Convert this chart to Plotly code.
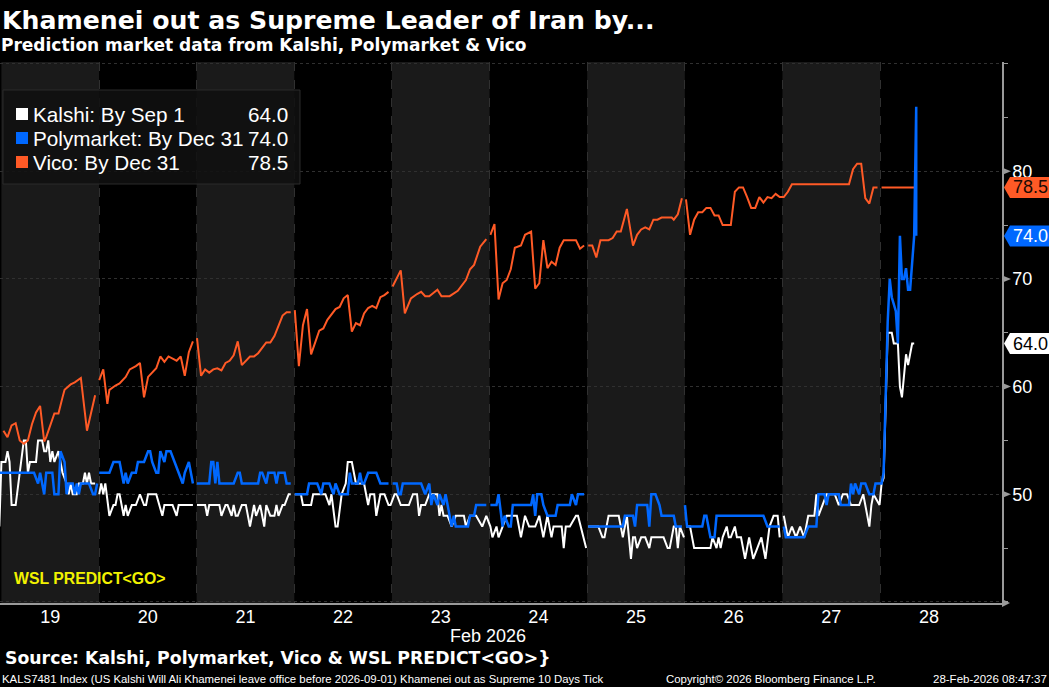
import pandas as pd
import plotly.graph_objects as go

W, H = 1049, 687
L, R, T, B = 0, 1002, 62, 603

START = pd.Timestamp("2026-02-19 00:00")
STEP_MIN = 30  # readings are half-hourly; the first number of each pair counts half hours from START
READ_SCALE = 1.0017  # the pixel scale the readings were taken with

day_labels = ["19", "20", "21", "22", "23", "24", "25", "26", "27", "28"]
y_major = [40, 50, 60, 70, 80, 90]
y_labels = ["", "50", "60", "70", "80", ""]
y_minor = [45, 55, 65, 75, 85]

kalshi = [(-1,47),(0,53),(2,53),(3,54),(4,53),(5,49),(7,49),(11,55),(12,55),(13,52),(14,53),(17,53),(18,55),(20,55),(21,54),(22,54),(23,55),(24,53),(25,54),(26,53),(28,54),(30,52),(32,51),(33,50),(34,51),(35,50),(37,50),(38,51),(40,51),(41,52),(42,51),(43,52),(44,51),(46,51),
 (47,None),(48,50),(49,51),(50,50),(51,51),(53,48),(55,49),(56,49),(57,50),(58,50),(60,48),(61,49),(62,48),(64,49),(66,49),(68,50),(70,49),(71,49),(72,50),(76,50),(79,48),(80,49),(84,49),(86,48),(87,49),(94,49),
 (95,None),(96,49),(100,49),(101,48),(102,49),(107,49),(108,48),(110,49),(111,49),(113,48),(114,49),(115,48),(116,48),(118,49),(120,49),(122,47),(124,49),(125,48),(127,49),(128,48),(129,47),(130,49),(132,48),(134,48),(135,49),(136,48),(138,49),(139,49),(141,50),(142,50),
 (143,None),(144,50),(147,50),(148,49),(152,49),(153,50),(159,50),(161,49),(162,50),(164,47),(165,47),(167,50),(169,51),(170,53),(172,53),(174,51),(178,51),(180,49),(181,50),(183,50),(184,48),(186,50),(188,50),(190,49),
 (191,49),(193,50),(194,50),(196,49),(200,49),(202,50),(204,50),(205,48),(206,49),(208,49),(210,50),(214,50),(215,48),(216,49),(217,48),(219,48),(221,47),(223,48),(227,48),(228,47),(230,48),(233,48),(236,47),(238,48),
 (240,47),(241,46),(243,47),(244,46),(246,47),(248,48),(253,48),(255,46),(257,48),(259,47),(262,47),(264,48),(266,46),(268,48),(270,46),(271,47),(275,47),(276,45),(277,47),(279,47),(282,48),(283,48),(287,45),
 (287.5,None),(288,47),(293,47),(295,46),(296,46),(298,48),(303,48),(305,46),(307,48),(309,44),(310,46),(311,46),(312,45),(314,46),(316,46),(318,45),(319,46),(325,46),(327,45),(328,45),(330,47),(331,47),(332,45),(333,47),(335,46),
 (335.5,None),(336,47),(338,47),(340,45),(348,45),(349,46),(351,45),(352,46),(353,45),(354,46),(356,47),(357,46),(358,46),(360,47),(361,46),(363,46),(365,44),(367,46),(369,44),(371,45),(373,46),(375,44),(377,47),(379,48),(381,48),(382,46),
 (383,None),(384,48),(386,46),(388,47),(390,46),(392,47),(394,46),(396,48),(399,48),(400,50),(401,48),(403,49),(405,50),(409,50),(411,49),(413,50),(415,50),(417,49),(421,49),(423,50),(426,47),(427,49),(428,50),(431,49),(432,51),(433,51.5),(434,59),(435,65),(437,65),(438,64),(440,64),(441,60),(442,59),(444,63),(445,62),(447,64),(448,64)]

polymarket = [(-1,52),(16,52),(18,51),(19,52),(21,50),(22,52),(25,52),(26,50),(28,50),(29,54),(31,53),(32,50),(33,51),(35,51),(36,50),(37,51),(38,50),(39,51),(43,51),(45,50),(46,50),(47,51),
 (47.5,None),(48,52),(53,52),(55,53),(58,53),(60,51),(61,52),(62,51),(64,52),(66,52),(67,53),(70,53),(72,54),(73,54),(74,53),(76,52),(77,52),(78,54),(80,53),(81,54),(83,54),(85,53),(87,52),(89,51),(90,52),(92,53),(94,51),
 (95,None),(96,51),(102,51),(103,53),(104,53),(105,51),(106,53),(107,51),(114,51),(116,52),(117,52),(118,51),(126,51),(127,52),(128,52),(130,51),(131,52),(134,52),(135,51),(136,52),(139,52),(140,51),(142,51),
 (143,None),(144,50),(150,50),(151,51),(155,51),(157,50),(158,51),(161,51),(163,50),(164,51),(166,50),(170,50),(171,52),(172,51),(175,51),(176,52),(177,51),(178,51),(180,52),(184,52),(186,51),(190,51),
 (191,None),(192,51),(194,51),(195,50),(196,50),(197,51),(206,51),(208,50),(210,51),(211,49),(212,50),(214,49),(215,50),(217,49),(218,50),(219,49),(221,47),(222,48),(223,47),(229,47),(230,48),(232,48),(233,49),(238,49),
 (239,None),(240,49),(243,49),(244,50),(246,47),(247,48),(249,47),(250,47),(251,49),(260,49),(261,50),(262,48),(263,50),(265,50),(266,49),(268,48),(272,48),(273,49),(279,49),(280,50),(282,49),(283,50),(286,50),
 (287,None),(288,47),(305,47),(306,48),(310,48),(311,47),(312,49),(317,49),(318,47),(319,50),(321,50),(323,49),(324,48),(330,48),(331,47),(334,47),
 (335,None),(335.5,49),(336.5,47),(344,47),(345,48),(346,48),(348,46),(350,46),(351,48),(374,48),(376,47),(382,47),
 (383,None),(384,47),(385,46),(394,46),(396,47),(400,47),(401,50),(404,50),(405,49),(406,50),(411,50),(412,49),(416,49),(417,51),(418,50),(419,51),(421,50),(422,51),(424,51),(426,50),(428,50),(429,51),(432,51),(433,52),(434,60),(435,66),(436,70),(437,68.3),(439,67),(440,64),(441,74),(442,70),(443,70),(444,71),(445,69),(446,69),(448,74),(449,86),(449,74)]

vico = [(1,55.9),(3,55.3),(5,56.4),(7,56.6),(9,55.0),(11,54.7),(13,55.0),(15,56.5),(17,57.6),(19,58.2),(21,54.9),(22,55.3),(26,57.5),(28,57.5),(30,59.0),(31,59.7),(34,60.2),(36,60.4),(39,60.8),(42,55.9),(46,59.2),
 (47,None),(48,60.6),(50,61.6),(52,58.4),(53,59.7),(56,60.1),(58,60.3),(61,60.9),(63,61.6),(66,61.9),(68,62.2),(70,59.0),(72,60.9),(76,61.7),(78,62.8),(80,62.3),(82,62.8),(85,62.5),(86,62.4),(88,62.8),(90,61.0),(92,63.2),(94,64.2),
 (95,None),(96,64.5),(98,61.0),(100,61.6),(102,61.3),(104,61.6),(106,61.7),(108,61.5),(110,62.2),(112,62.4),(114,62.9),(116,64.2),(118,62.0),(122,62.8),(124,62.8),(126,63.1),(130,64.1),(132,64.1),(134,64.7),(138,66.6),(140,66.9),(142,66.9),
 (143,None),(144,67.1),(146,61.9),(148,65.7),(150,67.2),(152,63.0),(156,65.2),(158,65.4),(160,66.2),(164,67.2),(166,67.4),(168,68.2),(170,68.5),(172,65.1),(174,65.9),(176,65.7),(178,66.8),(180,67.3),(182,67.5),(184,67.3),(186,68.3),(188,68.5),(190,68.8),
 (191,None),(192,69.3),(196,70.8),(198,66.8),(201,68.2),(204,68.6),(206,68.8),(208,68.4),(210,68.4),(214,69.0),(216,68.4),(220,68.4),(224,68.9),(228,69.9),(230,70.9),(232,71.3),(235,73.0),(238,73.7),
 (239,None),(240,74.1),(242,75.1),(244,68.1),(246,69.6),(248,69.9),(250,70.9),(252,72.9),(255,73.1),(257,74.1),(260,74.4),(262,69.1),(264,69.6),(266,73.6),(268,71.0),(270,71.6),(272,71.3),(274,72.9),(276,73.6),(282,73.6),(284,72.8),(286,73.1),
 (287,None),(288,73.1),(290,73.1),(292,72.0),(294,73.6),(298,73.6),(300,73.8),(302,74.4),(304,74.4),(307,76.5),(310,73.1),(312,74.1),(314,74.6),(316,74.8),(318,74.6),(320,75.5),(322,75.5),(324,75.7),(329,75.7),(330,75.5),(332,76.0),(334,77.5),
 (335,None),(336,77.4),(338,74.1),(340,75.5),(342,76.2),(344,76.2),(346,76.6),(348,76.6),(350,75.9),(352,75.9),(354,75.0),(358,75.0),(360,78.1),(362,78.5),(364,78.5),(366,77.6),(368,76.6),(370,76.6),(372,77.6),(374,77.1),(376,77.6),(378,77.5),(380,77.9),(382,77.6),
 (384,77.6),(386,78.1),(388,78.8),(416,78.8),(418,80.2),(420,80.7),(422,80.7),(424,77.5),(426,77.0),(428,78.5),(430,78.5),
 (431,None),(432,78.5),(448,78.5)]

legend_rows = [("Kalshi: By Sep 1", "64.0", "#FFFFFF"),
               ("Polymarket: By Dec 31", "74.0", "#0068FF"),
               ("Vico: By Dec 31", "78.5", "#FF5A26")]


def t(n):
    return START + pd.Timedelta(minutes=STEP_MIN * n)


def px(x):
    return (x - L) / (R - L)


def py(y):
    return (B - y) / (B - T)


SHADE = "#1A1A1A"
GRID = "#303030"
AXIS = "#9A9A9A"
Y0, Y1 = 39.9, 90.15
PER_HALF_HOUR = 2.034
N0 = -1.4 / PER_HALF_HOUR
N1 = (R - 1.4) / PER_HALF_HOUR

fig = go.Figure()
for (name, pts), (_, _, colour), width in zip(
    [("Kalshi", kalshi), ("Vico", vico), ("Polymarket", polymarket)],
    [legend_rows[0], legend_rows[2], legend_rows[1]],
    [2, 2, 2.5],
):
    fig.add_trace(go.Scatter(x=[t(p[0] * READ_SCALE) for p in pts], y=[p[1] for p in pts], mode="lines", name=name,
                             line=dict(color=colour, width=width), connectgaps=False, hoverinfo="x+y"))

shapes = []
for d in range(0, 10, 2):
    shapes.append(dict(type="rect", xref="x", yref="paper", x0=t(max(48 * d, N0)), x1=t(48 * (d + 1)), y0=0, y1=1,
                       fillcolor=SHADE, line_width=0, layer="below"))

# legend box
shapes.append(dict(type="rect", xref="paper", yref="paper", x0=px(3), x1=px(300), y0=py(184), y1=py(90),
                   fillcolor="rgba(16,16,16,0.85)", line=dict(color="#2A2A2A", width=1), layer="above"))
annotations = []
for i, (label, value, colour) in enumerate(legend_rows):
    yc = 114 + i * 24
    shapes.append(dict(type="rect", xref="paper", yref="paper", x0=px(16), x1=px(28), y0=py(yc + 6), y1=py(yc - 6),
                       fillcolor=colour, line_width=0, layer="above"))
    annotations.append(dict(text=label, x=px(30.5), y=py(yc), xref="paper", yref="paper", xanchor="left", yanchor="middle",
                            showarrow=False, font=dict(family="Liberation Sans", size=20.7, color="#FFFFFF")))
    annotations.append(dict(text=value, x=px(290), y=py(yc), xref="paper", yref="paper", xanchor="right", yanchor="middle",
                            showarrow=False, font=dict(family="Liberation Sans", size=20.7, color="#FFFFFF")))

# axis arrows at the major ticks
for v in y_major[1:-1]:
    shapes.append(dict(type="path", xref="paper", yref="y", fillcolor=AXIS, line_width=0, layer="above",
                       path=f"M {px(R + 1)} {v - 0.3} L {px(R + 9)} {v} L {px(R + 1)} {v + 0.3} Z"))
shapes.append(dict(type="path", xref="paper", yref="paper", fillcolor=AXIS, line_width=0, layer="above",
                   path=f"M {px(R)} {py(B - 4)} L {px(R + 8)} {py(B)} L {px(R)} {py(B + 4)} Z"))

# last-value tags
for value, fill, ink in [(78.5, "#FF5A26", "#1A0A04"), (74.0, "#0068FF", "#FFFFFF"), (64.0, "#FFFFFF", "#000000")]:
    yc = 171.3 + (80 - value) * 10.77
    shapes.append(dict(type="path", xref="paper", yref="paper", fillcolor=fill, line_width=0, layer="above",
                       path=f"M {px(1004)} {py(yc)} L {px(1010)} {py(yc - 10.5)} L {px(1049)} {py(yc - 10.5)} "
                            f"L {px(1049)} {py(yc + 10.5)} L {px(1010)} {py(yc + 10.5)} Z"))
    annotations.append(dict(text=f"{value:.1f}", x=px(1049.5), y=py(yc), xref="paper", yref="paper", xanchor="right",
                            yanchor="middle", showarrow=False, font=dict(family="Liberation Sans", size=18, color=ink)))


def text(s, x, y, size, family="DejaVu Sans", colour="#FFFFFF", anchor="left", bold=False):
    annotations.append(dict(text=f"<b>{s}</b>" if bold else s, x=px(x), y=py(y), xref="paper", yref="paper",
                            xanchor=anchor, yanchor="middle", showarrow=False,
                            font=dict(family=family, size=size, color=colour)))


text("Khamenei out as Supreme Leader of Iran by...", 0, 21, 25.2, bold=True)
text("Prediction market data from Kalshi, Polymarket &amp; Vico", -1, 45, 17, bold=True)
text("WSL PREDICT&lt;GO&gt;", 12, 578, 15.8, family="Liberation Sans", colour="#F2F200", bold=True)
text("Feb 2026", 488, 636, 18, family="Liberation Sans", anchor="center")
text("Source: Kalshi, Polymarket, Vico &amp; WSL PREDICT&lt;GO&gt;}", 3, 658, 17.3, bold=True)
text("KALS7481 Index (US Kalshi Will Ali Khamenei leave office before 2026-09-01) Khamenei out as Supreme 10 Days Tick",
     0, 679, 11.4, family="Liberation Sans")
text("Copyright© 2026 Bloomberg Finance L.P.", 664, 679, 11.4, family="Liberation Sans")
text("28-Feb-2026 08:47:37", 1049, 679, 11.5, family="Liberation Sans", anchor="right")

fig.update_layout(
    width=W, height=H, autosize=False, showlegend=False,
    paper_bgcolor="#000000", plot_bgcolor="#000000",
    margin=dict(l=L, r=W - R, t=T, b=H - B, pad=0),
    shapes=shapes, annotations=annotations,
    font=dict(family="Liberation Sans", color="#FFFFFF"),
    xaxis=dict(type="date", range=[t(N0), t(N1)],
               tickmode="array", tickvals=[t(24 + 48 * i) for i in range(len(day_labels))], ticktext=day_labels,
               ticks="", showgrid=False, zeroline=False, showline=True, linecolor=AXIS, linewidth=1.5,
               tickfont=dict(size=18, color="#FFFFFF"), ticklabelstandoff=-3,
               minor=dict(tickmode="array", tickvals=[t(48 * i) for i in range(1, 10)], showgrid=True,
                          gridcolor=GRID, griddash="dash", gridwidth=1, ticks="")),
    yaxis=dict(side="right", range=[Y0, Y1], tickmode="array", tickvals=y_major, ticktext=y_labels,
               ticks="outside", ticklen=4, tickcolor=AXIS, tickwidth=1, showgrid=True, gridcolor=GRID,
               griddash="dot", gridwidth=1, zeroline=False, showline=True, linecolor=AXIS, linewidth=1.5,
               tickfont=dict(size=18, color="#FFFFFF"), ticklabelstandoff=1,
               minor=dict(tickmode="array", tickvals=y_minor, ticks="outside", ticklen=4, tickcolor=AXIS,
                          tickwidth=1, showgrid=False)),
)
fig.write_html("out.html", config={"displayModeBar": False},
               post_script="document.body.style.margin='0';document.body.style.background='#000';document.documentElement.style.overflow='hidden';")
